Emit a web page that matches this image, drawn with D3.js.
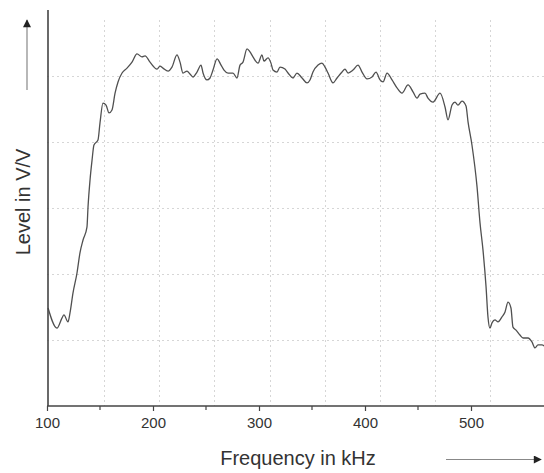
<!DOCTYPE html>
<html>
<head>
<meta charset="utf-8">
<script src="https://cdn.jsdelivr.net/npm/d3@7"></script>
<style>
  html, body { margin: 0; padding: 0; background: #fff; }
  svg { display: block; }
  text { font-family: "Liberation Sans", Arial, sans-serif; fill: #333; }
</style>
</head>
<body>
<svg id="chart" width="544" height="473"></svg>
<script>
// Measured response: frequency (kHz) and level (V/V)
const freq = [101, 109.4, 114.2, 116, 119.8, 121.7, 124.5, 128.3, 131.1, 134, 137.7, 138.7, 140.6, 142.5, 144.3, 148.1, 150, 152.8, 155.7, 158.5, 161.3, 164.2, 167, 170.8, 175.5, 180.2, 184.9, 189.6, 192.5, 197.2, 203.8, 206.6, 209.4, 214.2, 217.9, 222.6, 225.5, 228.3, 232.1, 234.9, 237.7, 241.5, 245.3, 247.2, 250.9, 253.8, 256.6, 260.4, 264.2, 267, 270.8, 275.5, 279.2, 282.1, 284.9, 288.7, 291.5, 294.3, 299.1, 302.8, 304.7, 308.5, 311.3, 313.2, 317, 319.8, 324.5, 327.4, 332.1, 335.8, 340.6, 345.3, 348.1, 350.9, 355.7, 359.4, 362.3, 365.1, 369.8, 373.6, 378.3, 381.1, 384, 388.7, 393.4, 397.2, 401.9, 406.6, 410.4, 414.2, 417, 420.8, 425.5, 430.2, 434.9, 440.6, 445.3, 449.1, 451.9, 456.6, 459.4, 464.2, 470.8, 475.5, 478.3, 482.1, 484.9, 487.7, 491.5, 495.3, 497.2, 500.9, 505.7, 508.5, 511.3, 514.2, 516, 517.9, 519.8, 522.6, 525.5, 529.2, 532.1, 534.9, 537.7, 539.6, 542.5, 546.2, 549.1, 553.8, 557.5, 560.4, 563.2, 567, 569];
const level = [0.297, 0.236, 0.267, 0.276, 0.255, 0.282, 0.342, 0.403, 0.464, 0.503, 0.542, 0.603, 0.685, 0.745, 0.791, 0.806, 0.858, 0.918, 0.912, 0.888, 0.897, 0.948, 0.982, 1.009, 1.024, 1.042, 1.067, 1.058, 1.061, 1.042, 1.021, 1.030, 1.024, 1.015, 1.027, 1.064, 1.042, 1.009, 1.015, 1.006, 0.997, 1.012, 1.033, 1.009, 0.988, 0.994, 1.018, 1.052, 1.033, 1.018, 1.009, 1.009, 0.994, 1.033, 1.042, 1.082, 1.073, 1.058, 1.039, 1.064, 1.045, 1.055, 1.039, 1.018, 1.012, 1.027, 1.021, 1.009, 0.994, 1.009, 0.994, 0.979, 0.988, 1.012, 1.033, 1.039, 1.027, 1.009, 0.979, 0.994, 1.012, 1.021, 1.009, 1.018, 1.033, 1.012, 0.991, 0.997, 1.012, 0.988, 0.982, 1.009, 0.988, 0.964, 0.948, 0.973, 0.952, 0.933, 0.945, 0.948, 0.933, 0.921, 0.948, 0.906, 0.867, 0.912, 0.921, 0.912, 0.924, 0.909, 0.861, 0.791, 0.664, 0.555, 0.473, 0.361, 0.270, 0.236, 0.252, 0.261, 0.255, 0.270, 0.285, 0.315, 0.297, 0.239, 0.230, 0.215, 0.206, 0.206, 0.194, 0.176, 0.185, 0.185, 0.182];

const xTicks = [100, 200, 300, 400, 500];
const xMinorTicks = [150, 250, 350, 450];
const xGrid = [154, 206, 258, 310, 362, 414, 466, 518];
const yGrid = [0.2, 0.4, 0.6, 0.8, 1.0];
const xDomainEnd = 569;
const yDomain = [0, 1.2];

const svg = d3.select("#chart");
const x = d3.scaleLinear().domain([100, 500]).range([47, 471]);
const y = d3.scaleLinear().domain(yDomain).range([406, 10]);

// dotted grid
const grid = svg.append("g").attr("stroke", "#d6d6d6").attr("stroke-width", 1)
  .attr("stroke-dasharray", "2,3");
grid.selectAll("line.h").data(yGrid).join("line")
  .attr("x1", x(100)).attr("x2", x(xDomainEnd))
  .attr("y1", d => Math.round(y(d)) + 0.5).attr("y2", d => Math.round(y(d)) + 0.5);
grid.selectAll("line.v").data(xGrid).join("line")
  .attr("x1", d => Math.round(x(d)) + 0.5).attr("x2", d => Math.round(x(d)) + 0.5)
  .attr("y1", y(yDomain[1]) + 10).attr("y2", y(0));

// response curve
const line = d3.line().x((d, i) => x(freq[i])).y(d => y(d)).curve(d3.curveMonotoneX);
svg.append("path").datum(level)
  .attr("fill", "none").attr("stroke", "#505050").attr("stroke-width", 1.3)
  .attr("stroke-linejoin", "round").attr("d", line);

// x axis
const xAxis = d3.axisBottom(x).tickValues(xTicks).tickSize(5).tickPadding(6)
  .tickFormat(d3.format("d"));
const gx = svg.append("g").attr("transform", `translate(0,${y(0)})`).call(xAxis);
gx.select(".domain").remove();
gx.selectAll(".tick line").attr("stroke", "#444").attr("stroke-width", 1.2);
gx.selectAll(".tick text").attr("font-size", 15).attr("fill", "#333")
  .attr("font-family", "Liberation Sans, Arial, sans-serif");
gx.selectAll("line.minor").data(xMinorTicks).join("line").attr("class", "minor")
  .attr("x1", d => x(d)).attr("x2", d => x(d)).attr("y1", 0).attr("y2", 4)
  .attr("stroke", "#444").attr("stroke-width", 1.2);

svg.append("line").attr("x1", x(100)).attr("x2", x(xDomainEnd))
  .attr("y1", y(0)).attr("y2", y(0)).attr("stroke", "#444").attr("stroke-width", 1.6);
svg.append("line").attr("x1", x(100) + 1).attr("x2", x(100) + 1)
  .attr("y1", y(yDomain[1])).attr("y2", y(0)).attr("stroke", "#444").attr("stroke-width", 1.6);

// axis titles
svg.append("text").attr("x", 298).attr("y", 465).attr("text-anchor", "middle")
  .attr("font-size", 20).text("Frequency in kHz");
svg.append("text").attr("transform", "translate(30,202) rotate(-90)")
  .attr("text-anchor", "middle").attr("font-size", 20).text("Level in V/V");

// direction arrows
const defs = svg.append("defs");
defs.append("marker").attr("id", "head").attr("viewBox", "0 0 10 10")
  .attr("refX", 9).attr("refY", 5).attr("markerWidth", 11).attr("markerHeight", 8)
  .attr("markerUnits", "userSpaceOnUse").attr("orient", "auto")
  .append("path").attr("d", "M0,0 L10,5 L0,10 Z").attr("fill", "#222");
svg.append("line").attr("x1", 27).attr("x2", 27).attr("y1", 90).attr("y2", 20)
  .attr("stroke", "#888").attr("stroke-width", 1.2).attr("marker-end", "url(#head)");
svg.append("line").attr("x1", 446).attr("x2", 541).attr("y1", 459.5).attr("y2", 459.5)
  .attr("stroke", "#888").attr("stroke-width", 1.2).attr("marker-end", "url(#head)");
</script>
</body>
</html>
